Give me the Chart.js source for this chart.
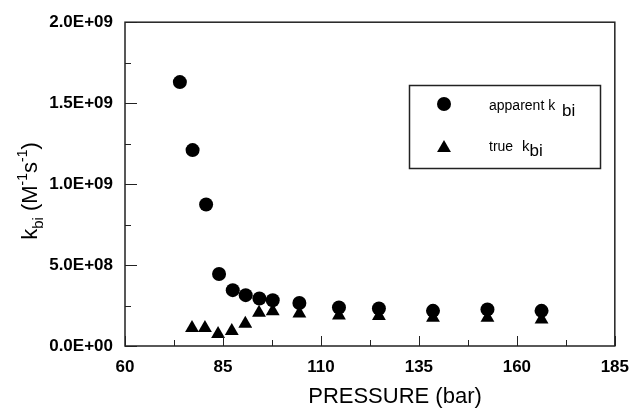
<!DOCTYPE html>
<html>
<head>
<meta charset="utf-8">
<script src="https://cdn.jsdelivr.net/npm/chart.js@4.4.0/dist/chart.umd.min.js"></script>
<style>
  html, body { margin: 0; padding: 0; background: #fff; }
</style>
</head>
<body>
<canvas id="kbiChart" width="640" height="408"></canvas>
<script>
// values (pressure in bar, k_bi in M^-1 s^-1)
const apparentPressure = [74, 77.25, 80.7, 84, 87.5, 90.8, 94.3, 97.7, 104.5, 114.6, 124.8, 138.6, 152.5, 166.3];
const apparentKbi = [1.63e9, 1.21e9, 8.74e8, 4.45e8, 3.45e8, 3.14e8, 2.93e8, 2.83e8, 2.66e8, 2.38e8, 2.32e8, 2.17e8, 2.26e8, 2.17e8];

const truePressure = [77.1, 80.4, 83.75, 87.25, 90.7, 94.2, 97.7, 104.5, 114.6, 124.8, 138.6, 152.5, 166.3];
const trueKbi = [1.11e8, 1.11e8, 0.74e8, 0.92e8, 1.37e8, 2.05e8, 2.15e8, 2.01e8, 1.88e8, 1.85e8, 1.74e8, 1.74e8, 1.64e8];

const xRange = [60, 185];
const yRange = [0, 2e9];

Chart.defaults.font.family = "'Liberation Sans', Arial, sans-serif";
Chart.defaults.color = '#000';

const toPoints = (xs, ys) => xs.map((x, i) => ({ x: x, y: ys[i] }));

// 2.0E+09 style labels
function sciLabel(v) {
  const parts = Number(v).toExponential(1).split('e');
  const exp = parseInt(parts[1], 10);
  const sign = exp < 0 ? '-' : '+';
  return parts[0] + 'E' + sign + String(Math.abs(exp)).padStart(2, '0');
}

// box around the plot + inward major/minor ticks
const frameTicks = {
  id: 'frameTicks',
  afterDraw(chart) {
    const { ctx, chartArea: a, scales: { x, y } } = chart;
    ctx.save();
    ctx.strokeStyle = '#222';
    ctx.lineWidth = 1.5;
    ctx.strokeRect(a.left, a.top, a.right - a.left, a.bottom - a.top);

    ctx.lineWidth = 1;
    const line = (x1, y1, x2, y2) => {
      ctx.beginPath(); ctx.moveTo(x1, y1); ctx.lineTo(x2, y2); ctx.stroke();
    };
    const xv = x.ticks.map(t => t.value);
    xv.forEach((v, i) => {
      const px = Math.round(x.getPixelForValue(v)) + 0.5;
      line(px, a.bottom, px, a.bottom - 10);
      if (i < xv.length - 1) {
        const mx = Math.round(x.getPixelForValue((v + xv[i + 1]) / 2)) + 0.5;
        line(mx, a.bottom, mx, a.bottom - 6);
      }
    });
    const yv = y.ticks.map(t => t.value);
    yv.forEach((v, i) => {
      const py = Math.round(y.getPixelForValue(v)) + 0.5;
      line(a.left, py, a.left + 12, py);
      if (i < yv.length - 1) {
        const my = Math.round(y.getPixelForValue((v + yv[i + 1]) / 2)) + 0.5;
        line(a.left, my, a.left + 6, my);
      }
    });
    ctx.restore();
  }
};

// draws a run of text pieces: [text, size, baseline shift]
function drawRuns(ctx, runs, x, y, center) {
  let total = 0;
  runs.forEach(r => { ctx.font = r[1] + "px 'Liberation Sans', Arial, sans-serif"; total += ctx.measureText(r[0]).width; });
  let cx = center ? x - total / 2 : x;
  runs.forEach(r => {
    ctx.font = r[1] + "px 'Liberation Sans', Arial, sans-serif";
    ctx.fillText(r[0], cx, y + r[2]);
    cx += ctx.measureText(r[0]).width;
  });
}

// axis titles and the boxed legend
const titlesLegend = {
  id: 'titlesLegend',
  afterDraw(chart) {
    const ctx = chart.ctx;
    ctx.save();
    ctx.fillStyle = '#000';
    ctx.textBaseline = 'alphabetic';
    ctx.textAlign = 'left';

    drawRuns(ctx, [['PRESSURE (bar)', 22, 0]], 395, 403, true);

    ctx.save();
    ctx.translate(37, 191);
    ctx.rotate(-Math.PI / 2);
    drawRuns(ctx, [['k', 22, 0], ['bi', 15, 6], [' (M', 22, 0], ['-1', 14, -10],
                   ['s', 22, 0], ['-1', 14, -10], [')', 22, 0]], 0, 0, true);
    ctx.restore();

    // legend
    ctx.strokeStyle = '#222';
    ctx.lineWidth = 1.5;
    ctx.strokeRect(409.5, 85.5, 191, 83);
    ctx.beginPath();
    ctx.arc(444, 104, 7, 0, Math.PI * 2);
    ctx.fill();
    ctx.beginPath();
    ctx.moveTo(444, 140);
    ctx.lineTo(444 + 8 * Math.sin(2 * Math.PI / 3), 152);
    ctx.lineTo(444 - 8 * Math.sin(2 * Math.PI / 3), 152);
    ctx.closePath();
    ctx.fill();
    drawRuns(ctx, [['apparent k', 14, 0]], 489, 110, false);
    drawRuns(ctx, [['bi', 17, 0]], 562, 116, false);
    drawRuns(ctx, [['true', 14, 0]], 489, 151, false);
    drawRuns(ctx, [['k', 15, 0], ['bi', 17, 5]], 522, 151, false);
    ctx.restore();
  }
};

new Chart(document.getElementById('kbiChart').getContext('2d'), {
  type: 'scatter',
  data: {
    datasets: [{
      label: 'true kbi',
      data: toPoints(truePressure, trueKbi),
      pointStyle: 'triangle',
      pointRadius: 8,
      pointBorderWidth: 0,
      backgroundColor: '#000',
      borderColor: '#000'
    }, {
      label: 'apparent kbi',
      data: toPoints(apparentPressure, apparentKbi),
      pointStyle: 'circle',
      pointRadius: 7,
      pointBorderWidth: 0,
      backgroundColor: '#000',
      borderColor: '#000'
    }]
  },
  options: {
    responsive: false,
    animation: false,
    events: [],
    layout: { padding: { top: 21, right: 16, bottom: 0, left: 0 } },
    plugins: {
      legend: { display: false },
      tooltip: { enabled: false }
    },
    scales: {
      x: {
        type: 'linear',
        min: xRange[0],
        max: xRange[1],
        afterFit: (scale) => { scale.height = 62; },
        grid: { display: false, drawTicks: false },
        border: { display: false },
        ticks: {
          stepSize: 25,
          padding: 11,
          maxRotation: 0,
          font: { size: 17, weight: 'bold' }
        }
      },
      y: {
        min: yRange[0],
        max: yRange[1],
        afterFit: (scale) => { scale.width = 125; },
        grid: { display: false, drawTicks: false },
        border: { display: false },
        ticks: {
          stepSize: 5e8,
          padding: 12,
          font: { size: 17, weight: 'bold' },
          callback: (v) => sciLabel(v)
        }
      }
    }
  },
  plugins: [frameTicks, titlesLegend]
});
</script>
</body>
</html>
